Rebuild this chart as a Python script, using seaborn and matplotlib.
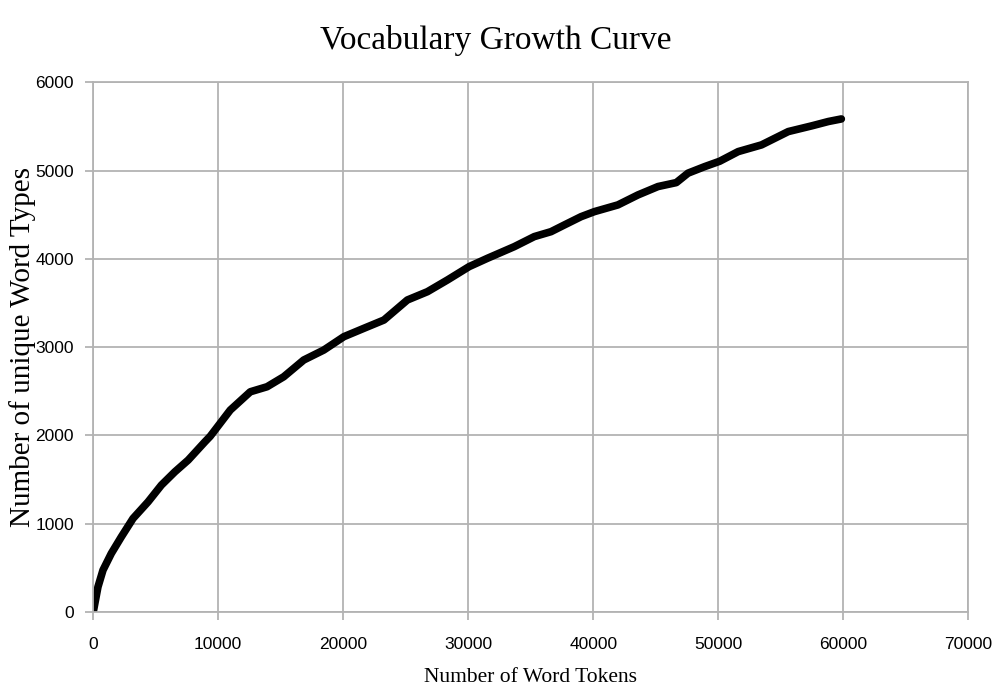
import pandas as pd
import seaborn as sns
import matplotlib.pyplot as plt

# values
tokens = [0, 377, 778, 1443, 2245, 3184, 4387, 5453, 6528, 7594, 8933,
          9359, 10962, 12566, 13905, 15237, 16840, 18444, 20048, 21652, 23256,
          25132, 26736, 28340, 30072, 31548, 33681, 35285, 36624, 37691, 39030,
          40096, 41973, 43577, 45180, 46648, 47586, 48918, 50120, 51596, 53464,
          55605, 57488, 58813, 59850]
types = [0, 283, 473, 662, 850, 1059, 1247, 1437, 1587, 1720, 1927,
         1990, 2287, 2494, 2551, 2664, 2854, 2967, 3118, 3213, 3307,
         3534, 3628, 3761, 3912, 4007, 4138, 4252, 4308, 4384, 4478,
         4535, 4611, 4724, 4819, 4864, 4971, 5045, 5106, 5215, 5291,
         5442, 5507, 5556, 5585]
x_ticks = [0, 10000, 20000, 30000, 40000, 50000, 60000, 70000]
y_ticks = [0, 1000, 2000, 3000, 4000, 5000, 6000]

df = pd.DataFrame({'tokens': tokens, 'types': types})

sns.set_style('white')
GRID = '#b3b3b3'
SERIF = ['Liberation Serif', 'DejaVu Serif']
SANS = ['Liberation Sans', 'DejaVu Sans']

fig = plt.figure(figsize=(9.92, 6.86), dpi=100)
ax = fig.add_axes([0.094, 0.108, 0.882, 0.772])

sns.lineplot(data=df, x='tokens', y='types', ax=ax, color='black',
             linewidth=5.5, solid_capstyle='round', solid_joinstyle='round')

ax.set_xlim(0, 70000)
ax.set_ylim(0, 6000)
ax.set_xticks(x_ticks)
ax.set_yticks(y_ticks)
ax.set_xticklabels([str(v) for v in x_ticks], family=SANS, fontsize=12.5, color='black')
ax.set_yticklabels([str(v) for v in y_ticks], family=SANS, fontsize=12.5, color='black')
ax.grid(True, color=GRID, linewidth=1.3)
ax.set_axisbelow(True)
for s in ax.spines.values():
    s.set_color(GRID)
    s.set_linewidth(1.3)
ax.tick_params(axis='both', bottom=True, left=True, length=6, width=1.3,
               color=GRID, pad=8)
ax.tick_params(axis='x', pad=12)

ax.set_xlabel('Number of Word Tokens', family=SERIF, fontsize=15.5, color='black')
ax.xaxis.set_label_coords(0.5, -0.105)
ax.set_ylabel('Number of unique Word Types', family=SERIF, fontsize=21, color='black')
ax.yaxis.set_label_coords(-0.066, 0.5)
fig.suptitle('Vocabulary Growth Curve', family=SERIF, fontsize=24, x=0.5, y=0.963,
             color='black')

plt.savefig('out.png', dpi=100)
